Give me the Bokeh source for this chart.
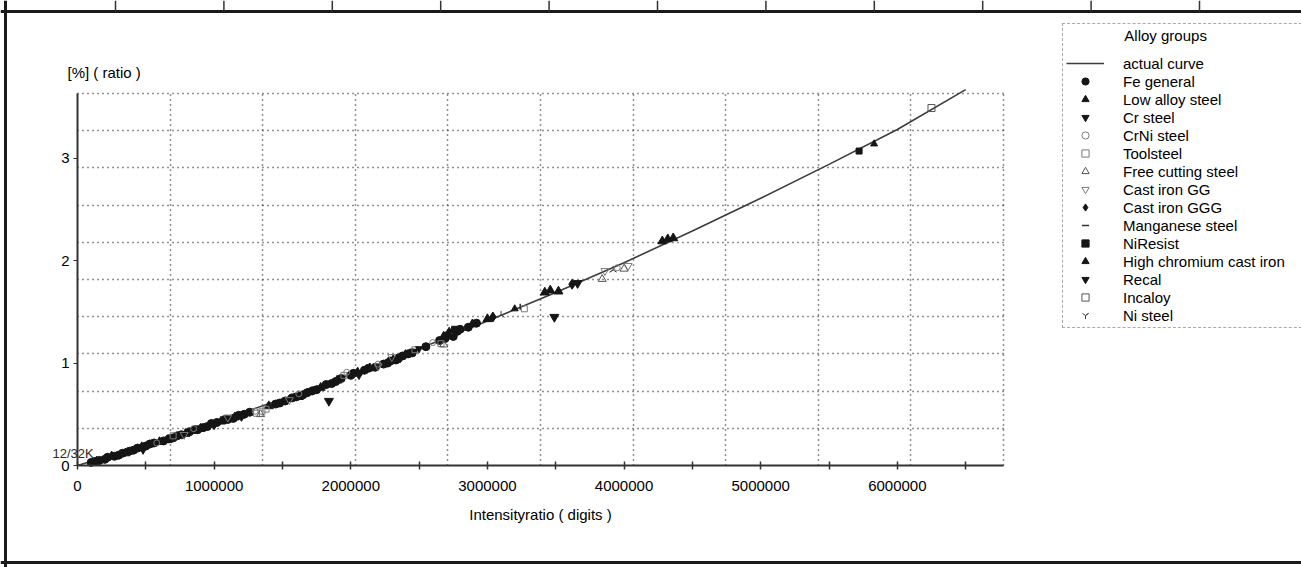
import math
from bokeh.plotting import figure
from bokeh.models import (Range1d, FixedTicker, Legend, LegendItem, NumeralTickFormatter,
                          Label, Grid)
from bokeh.embed import file_html
from bokeh.resources import INLINE

M = 1e6  # x values below are given in millions of digits

# ---- data (x in millions of digits, y in % ratio) ----
curve_x = [0, 0.5, 1.0, 1.5, 2.0, 2.5, 3.0, 3.5, 4.0, 4.5, 5.0, 5.5, 6.0, 6.50]
curve_y = [0, 0.20, 0.42, 0.65, 0.89, 1.14, 1.41, 1.69, 1.98, 2.29, 2.61, 2.94, 3.28, 3.67]

fe_x = [0.10, 0.13, 0.16, 0.20, 0.22, 0.27, 0.30, 0.33, 0.38, 0.41, 0.44, 0.50, 0.53, 0.56, 0.63,
        0.67, 0.70, 0.73, 0.76, 0.82, 0.86, 0.88, 0.92, 0.95, 0.98, 1.02, 1.08, 1.10, 1.14, 1.18,
        1.22, 1.26, 1.45, 1.48, 1.52, 1.57, 1.60, 1.65, 1.68, 1.72, 1.75, 1.82, 1.86, 1.89, 1.93,
        2.00, 2.02, 2.10, 2.13, 2.18, 2.24, 2.27, 2.29, 2.33, 2.35, 2.38, 2.42, 2.45, 2.55, 2.65,
        2.69, 2.71, 2.73, 2.75, 2.78, 2.80, 2.86, 2.92]
fe_y = [0.03, 0.04, 0.05, 0.06, 0.08, 0.09, 0.10, 0.12, 0.14, 0.15, 0.17, 0.19, 0.21, 0.22, 0.24,
        0.26, 0.27, 0.29, 0.30, 0.33, 0.35, 0.35, 0.37, 0.38, 0.41, 0.42, 0.45, 0.45, 0.46, 0.49,
        0.50, 0.52, 0.60, 0.61, 0.63, 0.66, 0.67, 0.69, 0.71, 0.73, 0.74, 0.79, 0.80, 0.82, 0.85,
        0.88, 0.90, 0.93, 0.95, 0.96, 0.99, 1.00, 1.02, 1.03, 1.05, 1.07, 1.09, 1.10, 1.16, 1.22,
        1.24, 1.27, 1.29, 1.26, 1.31, 1.33, 1.35, 1.39]
low_x = [0.14, 0.25, 0.35, 0.47, 0.60, 0.66, 0.79, 0.90, 1.05, 1.15, 1.40, 1.62, 1.78, 1.90, 2.05,
         2.14, 2.31, 2.40, 2.68, 2.72, 2.89, 3.00, 3.42, 3.46, 3.52, 4.28, 4.32, 4.36]
low_y = [0.04, 0.09, 0.12, 0.18, 0.23, 0.25, 0.31, 0.36, 0.43, 0.47, 0.58, 0.67, 0.76, 0.83, 0.91,
         0.95, 1.03, 1.08, 1.26, 1.30, 1.38, 1.43, 1.69, 1.71, 1.70, 2.19, 2.21, 2.22]
cr_x = [0.48, 1.00, 1.84, 2.06, 2.46, 2.75, 3.49, 3.66]
cr_y = [0.16, 0.40, 0.63, 0.89, 1.11, 1.28, 1.45, 1.78]
crni_x = [0.58, 0.85, 1.30, 1.62, 1.97, 2.20, 2.60, 3.95]
crni_y = [0.22, 0.36, 0.53, 0.70, 0.91, 0.99, 1.20, 1.93]
tool_x = [0.70, 1.31, 1.35, 1.38, 1.95, 2.47, 2.66, 3.27]
tool_y = [0.29, 0.51, 0.53, 0.55, 0.88, 1.13, 1.19, 1.53]
free_x = [1.34, 2.68, 3.84, 4.00]
free_y = [0.50, 1.18, 1.82, 1.92]
gg_x = [0.78, 1.10, 1.55, 2.20, 2.30, 3.86, 4.03]
gg_y = [0.30, 0.47, 0.64, 0.97, 1.06, 1.90, 1.95]
ggg_x = [1.20, 2.36, 3.04, 3.62]
ggg_y = [0.48, 1.05, 1.45, 1.77]
mn_x = [2.74, 3.24]
mn_y = [1.31, 1.55]
nires_x = [1.70, 2.76, 5.72]
nires_y = [0.72, 1.33, 3.07]
hcr_x = [3.20, 5.83]
hcr_y = [1.53, 3.14]
recal_x = [2.50]
recal_y = [1.14]
incaloy_x = [6.25]
incaloy_y = [3.49]
nist_x = [3.10, 3.92]
nist_y = [1.47, 1.91]

x_ticks = [0, 1, 2, 3, 4, 5, 6]
y_ticks = [0, 1, 2, 3]

# ---- geometry: the plot box of the original (pixels) and its value extents ----
W, H = 1301, 567
BOX_L, BOX_R, BOX_T, BOX_B = 77, 1003, 93, 465
XMAX, YMAX = 6.777 * M, 3.632
kx = (BOX_R - BOX_L) / XMAX
ky = (BOX_B - BOX_T) / YMAX

def px_x(px):   # canvas pixel column -> x value
    return (px - BOX_L) / kx

def px_y(py):   # canvas pixel row -> y value
    return (BOX_B - py) / ky

FONT = "Liberation Sans"
TXT = "#000000"

# the frame covers the whole canvas so that legend and notes are never clipped;
# the axes are pinned at 0 and bounded to the plotted extents
p = figure(width=W, height=H, output_backend="svg", toolbar_location=None,
           x_range=Range1d(px_x(0), px_x(W)), y_range=Range1d(px_y(H), px_y(0)),
           min_border=0)
p.outline_line_color = None
p.background_fill_color = "white"
p.border_fill_color = "white"

# grids divide each extent into 10 parts (as in the original)
gx = [XMAX * k / 10 for k in range(1, 11)]
gy = [YMAX * k / 10 for k in range(1, 11)]
GRID = dict(line_color="#222222", line_dash="1 4", line_width=1.5)
if "cross_bounds" in Grid.properties():
    p.xgrid.ticker = FixedTicker(ticks=gx)
    p.ygrid.ticker = FixedTicker(ticks=gy)
    p.xgrid.bounds = (0, XMAX)
    p.ygrid.bounds = (0, YMAX)
    p.xgrid.cross_bounds = (0, YMAX)
    p.ygrid.cross_bounds = (0, XMAX)
    for g in (p.xgrid, p.ygrid):
        g.grid_line_color = GRID["line_color"]
        g.grid_line_dash = GRID["line_dash"]
        g.grid_line_width = GRID["line_width"]
else:
    p.xgrid.visible = False
    p.ygrid.visible = False
    p.segment(x0=gx, y0=[0] * len(gx), x1=gx, y1=[YMAX] * len(gx), **GRID)
    p.segment(x0=[0] * len(gy), y0=gy, x1=[XMAX] * len(gy), y1=gy, **GRID)

# x axis
xa = p.xaxis[0]
xa.fixed_location = 0
xa.bounds = (0, XMAX)
xa.ticker = FixedTicker(ticks=[t * M for t in x_ticks],
                        minor_ticks=[(t + 0.5) * M for t in x_ticks])
xa.formatter = NumeralTickFormatter(format="0")
xa.axis_label = "Intensityratio ( digits )"
xa.axis_label_text_font = FONT
xa.axis_label_text_font_size = "15px"
xa.axis_label_text_font_style = "normal"
xa.axis_label_text_color = TXT
xa.axis_label_standoff = 12
xa.major_label_text_font = FONT
xa.major_label_text_font_size = "15px"
xa.major_label_text_color = TXT
xa.major_label_standoff = 11
xa.axis_line_width = 2
xa.axis_line_color = "#333333"
xa.major_tick_in = 4
xa.major_tick_out = 4
xa.minor_tick_in = 4
xa.minor_tick_out = 4
xa.major_tick_line_color = "#333333"
xa.minor_tick_line_color = "#333333"
xa.major_tick_line_width = 1.5
xa.minor_tick_line_width = 1.5

# y axis
ya = p.yaxis[0]
ya.fixed_location = 0
ya.bounds = (0, YMAX)
ya.ticker = FixedTicker(ticks=y_ticks, minor_ticks=[])
ya.major_label_text_font = FONT
ya.major_label_text_font_size = "15px"
ya.major_label_text_color = TXT
ya.major_label_standoff = 4
ya.axis_line_width = 2
ya.axis_line_color = "#333333"
ya.major_tick_in = 0
ya.major_tick_out = 4
ya.major_tick_line_color = "#333333"

# page rules of the scanned sheet (top, left, bottom) and the table cell edges above
p.segment(x0=[px_x(0), px_x(5), px_x(0)], y0=[px_y(11), px_y(0), px_y(562)],
          x1=[px_x(W), px_x(5), px_x(W)], y1=[px_y(11), px_y(H), px_y(562)],
          line_color="#1a1a1a", line_width=3)
cells = [px_x(115 + 108.4 * i) for i in range(11)]
p.segment(x0=cells, y0=[px_y(0)] * len(cells), x1=cells, y1=[px_y(11)] * len(cells),
          line_color="#333333", line_width=1.5)

BLACK = "#151515"
GREY = "#7a7a7a"

series = [
    ("actual curve", "line", curve_x, curve_y, dict(line_color="#3c3c3c", line_width=1.6)),
    ("Fe general", "circle", fe_x, fe_y, dict(size=8, fill_color=BLACK, line_color=BLACK)),
    ("Low alloy steel", "triangle", low_x, low_y, dict(size=9, fill_color=BLACK, line_color=BLACK)),
    ("Cr steel", "inverted_triangle", cr_x, cr_y, dict(size=9, fill_color=BLACK, line_color=BLACK)),
    ("CrNi steel", "circle", crni_x, crni_y, dict(size=6, fill_alpha=0, line_color=GREY)),
    ("Toolsteel", "square", tool_x, tool_y, dict(size=6, fill_alpha=0, line_color=GREY)),
    ("Free cutting steel", "triangle", free_x, free_y, dict(size=8, fill_alpha=0, line_color="#555555")),
    ("Cast iron GG", "inverted_triangle", gg_x, gg_y, dict(size=8, fill_alpha=0, line_color=GREY)),
    ("Cast iron GGG", "diamond", ggg_x, ggg_y, dict(size=10, fill_color=BLACK, line_color=BLACK)),
    ("Manganese steel", "dash", mn_x, mn_y, dict(size=6, angle=math.pi / 2, line_color="#333333", line_width=1.5)),
    ("NiResist", "square", nires_x, nires_y, dict(size=6, fill_color=BLACK, line_color=BLACK)),
    ("High chromium cast iron", "triangle", hcr_x, hcr_y, dict(size=7, fill_color=BLACK, line_color=BLACK)),
    ("Recal", "inverted_triangle", recal_x, recal_y, dict(size=7, fill_color=BLACK, line_color=BLACK)),
    ("Incaloy", "square", incaloy_x, incaloy_y, dict(size=7, fill_alpha=0, line_color="#555555")),
    ("Ni steel", "y", nist_x, nist_y, dict(size=8, angle=math.pi, line_color="#444444")),
]

items = []
for name, kind, xv, yv, style in series:
    x = [v * M for v in xv]
    if kind == "line":
        r = p.line(x, yv, **style)
    else:
        r = p.scatter(x, yv, marker=kind, **style)
    items.append(LegendItem(label=name, renderers=[r]))

# legend: bottom-left corner given relative to the canvas bottom-left; it runs off the page edge
LEG_L, LEG_B = 1062, 328
legend = Legend(items=items, location=(LEG_L, H - LEG_B), title="\u00a0" * 14 + "Alloy groups",
                title_text_font=FONT, title_text_font_size="15px", title_text_color=TXT,
                title_text_font_style="normal", title_standoff=10,
                label_text_font=FONT, label_text_font_size="15px", label_text_color=TXT,
                label_height=18, glyph_height=18, glyph_width=38, label_standoff=19,
                label_width=190, spacing=0, padding=3, margin=0,
                border_line_color="#555555", border_line_dash="2 2", border_line_width=1.2,
                background_fill_color="white", background_fill_alpha=1)
p.add_layout(legend)

p.add_layout(Label(x=67, y=H - 72, x_units="screen", y_units="screen", text="[%] ( ratio )",
                   text_font=FONT, text_font_size="15px", text_color=TXT,
                   text_align="left", text_baseline="middle"))
p.add_layout(Label(x=52, y=H - 453, x_units="screen", y_units="screen", text="12/32K",
                   text_font=FONT, text_font_size="13px", text_color="#2a2a2a",
                   text_align="left", text_baseline="middle"))

open("out.html", "w").write(file_html(p, INLINE))
